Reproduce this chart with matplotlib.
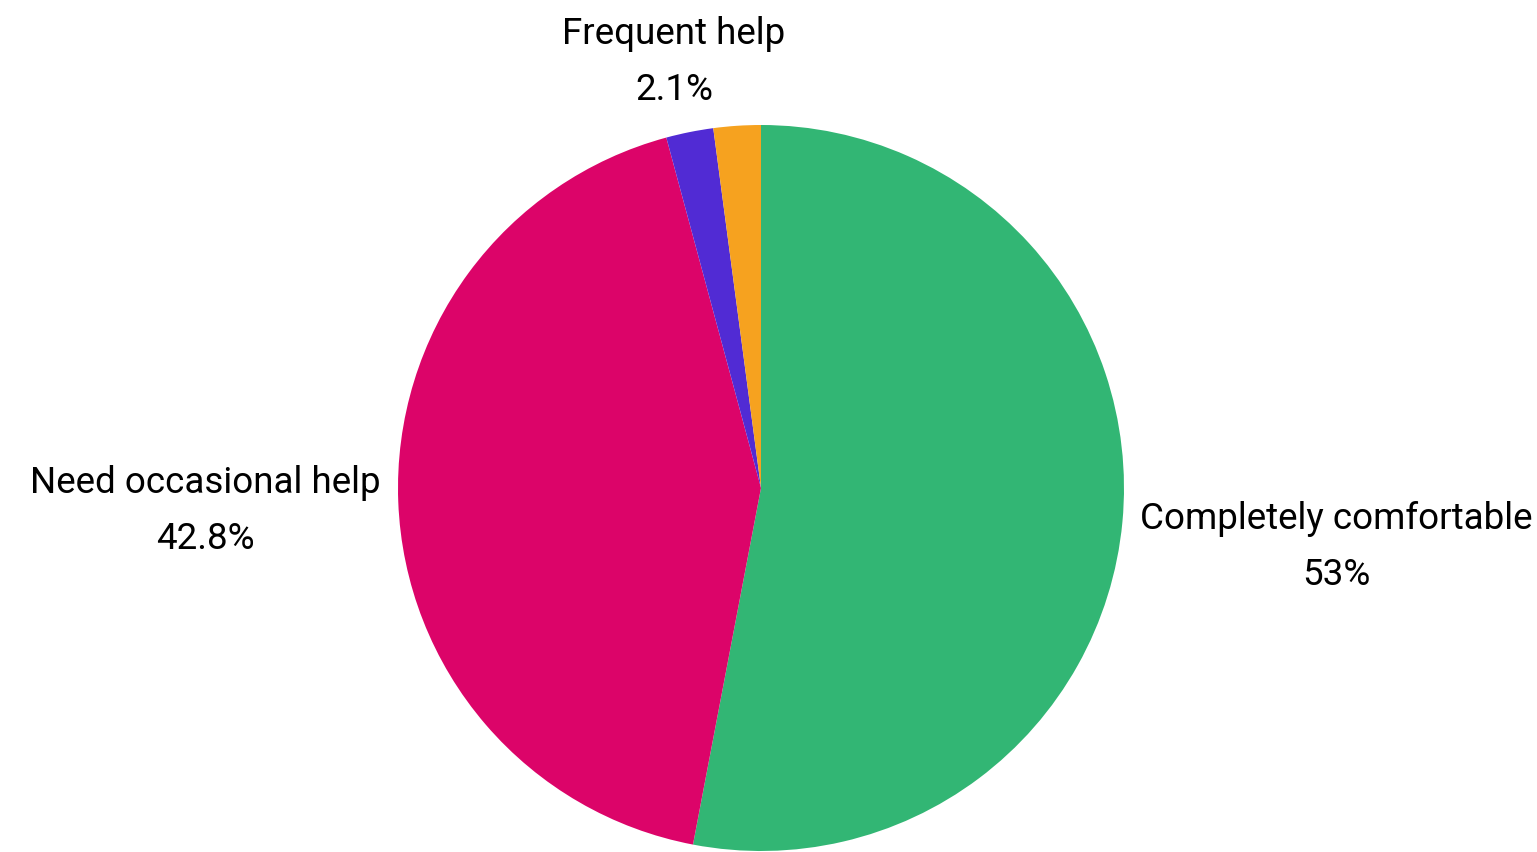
import matplotlib
matplotlib.use("Agg")
import matplotlib.pyplot as plt

# data
labels = ["Completely comfortable", "Need occasional help", "", "Frequent help"]
values = [53.0, 42.8, 2.1, 2.1]
pct_text = ["53%", "42.8%", "", "2.1%"]
colors = ["#32b674", "#dc0469", "#512bd4", "#f6a21f"]

plt.rcParams['font.family'] = ['Roboto', 'DejaVu Sans']

W, H = 1537, 852
fig = plt.figure(figsize=(W / 100, H / 100), dpi=100)
# pie centred at (761, 488) px, radius 363 px
cx, cy, r = 761, 488, 363
ax = fig.add_axes([(cx - r) / W, (H - cy - r) / H, 2 * r / W, 2 * r / H])
ax.pie(values, colors=colors, startangle=90, counterclock=False, radius=1,
       wedgeprops=dict(linewidth=0))
ax.set_xlim(-1, 1)
ax.set_ylim(-1, 1)
ax.set_aspect('equal')
ax.axis('off')

# label positions (pixel centres of the two-line blocks)
label_pos = {0: (1336, 547), 1: (205, 511), 3: (674, 62)}
for i, (px, py) in label_pos.items():
    fig.text(px / W, 1 - py / H, labels[i] + "\n" + pct_text[i],
             ha='center', va='center', fontsize=26.5, linespacing=1.72,
             color='black')

fig.savefig("out.png", dpi=100)
